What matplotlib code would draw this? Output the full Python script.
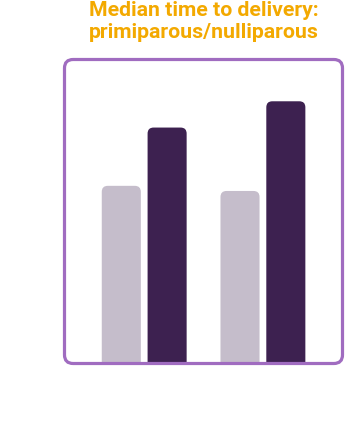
import matplotlib.pyplot as plt
from matplotlib.patches import FancyBboxPatch

groups = ['Group 1', 'Group 2']
light_vals = [5.9, 5.73]
dark_vals = [7.83, 8.7]
title_lines = ['Median time to delivery:', 'primiparous/nulliparous']

light_col = '#c5bdcb'
dark_col = '#3d2150'
frame_col = '#a06cc0'
title_col = '#f3a900'

fig = plt.figure(figsize=(3.46, 4.41), dpi=100)
W, H = 346, 441
ax = fig.add_axes([63 / W, (H - 364) / H, (344 - 63) / W, (364 - 59) / H])
ax.set_xlim(-0.684, 1.683)
ax.set_ylim(0, 10.1)
ax.axis('off')

bw = 0.329
off = 0.193
x = list(range(len(groups)))
bars_l = ax.bar([i - off for i in x], light_vals, bw, color=light_col)
bars_d = ax.bar([i + off for i in x], dark_vals, bw, color=dark_col)

# swap the flat bars for ones with rounded tops
px_x = 118.7            # pixels per x unit
px_y = 30.0             # pixels per y unit
r = 6 / px_x
for b in list(bars_l) + list(bars_d):
    b.set_visible(False)
    p = FancyBboxPatch((b.get_x(), -1), b.get_width(), b.get_height() + 1,
                       boxstyle=f'round,pad=0,rounding_size={r}',
                       mutation_aspect=px_x / px_y,
                       fc=b.get_facecolor(), ec='none', clip_on=True)
    ax.add_patch(p)
    p.set_clip_path(ax.patch)

frame = FancyBboxPatch((64.5 / W, (H - 363.5) / H), (342.5 - 64.5) / W, (363.5 - 59.5) / H,
                       boxstyle='round,pad=0,rounding_size=0.025',
                       mutation_aspect=W / H,
                       transform=fig.transFigure, fc='none', ec=frame_col, lw=2.3)
fig.patches.append(frame)

for line, base in zip(title_lines, [16.5, 37.5]):
    fig.text(204 / W, 1 - base / H, line, ha='center', va='baseline',
             color=title_col, fontsize=15.3, fontweight='bold', family='Roboto')

fig.savefig('out.png', dpi=100)
